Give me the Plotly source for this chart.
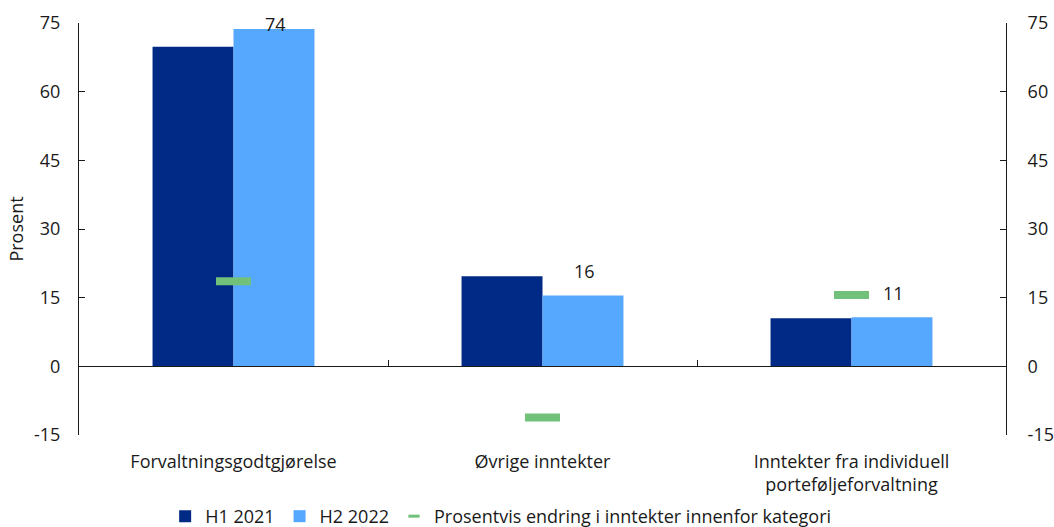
import plotly.graph_objects as go

categories = ["Forvaltningsgodtgjørelse", "Øvrige inntekter", "Inntekter fra individuell<br>porteføljeforvaltning"]
h1_2021 = [69.8, 19.7, 10.5]
h2_2022 = [73.7, 15.5, 10.7]
pct_change = [18.6, -11.2, 15.6]
h2_labels = ["74", "16", "11"]
y_ticks = [-15, 0, 15, 30, 45, 60, 75]
y_ticktext = ["-15", "0", "15", "30", "45", "60", "75"]

YMIN, YMAX = -15, 75
BARGAP = 0.476
FONT = "Open Sans"
FS = 18
TXT = "#1a1a1a"
GREEN = "#71c17a"
PCT_NAME = "Prosentvis endring i inntekter innenfor kategori"

fig = go.Figure()
fig.add_trace(go.Bar(x=categories, y=h1_2021, name="H1 2021", marker_color="#002a85",
                     marker_line_width=0))
fig.add_trace(go.Bar(x=categories, y=h2_2022, name="H2 2022", marker_color="#56a8ff",
                     marker_line_width=0))
fig.add_trace(go.Scatter(x=categories, y=pct_change, name=PCT_NAME, showlegend=False,
                         mode="markers", xaxis="x2",
                         marker=dict(symbol="line-ew", size=25, color=GREEN,
                                     line=dict(color=GREEN, width=8))))
# legend entry for the change markers
fig.add_trace(go.Scatter(x=[None], y=[None], name=PCT_NAME, mode="markers", xaxis="x2",
                         marker=dict(symbol="line-ew", size=8, color=GREEN,
                                     line=dict(color=GREEN, width=3))))
# invisible trace for right axis
fig.add_trace(go.Scatter(x=categories, y=h2_2022, yaxis="y2", mode="markers",
                         marker=dict(opacity=0), showlegend=False, hoverinfo="skip"))

offset = (1 - BARGAP) / 4
for i, (v, lab) in enumerate(zip(h2_2022, h2_labels)):
    fig.add_annotation(x=i + offset, y=min(v + 5.25, YMAX - 0.3), text=lab, showarrow=False,
                       xref="x", yref="y", yanchor="middle", xshift=2,
                       font=dict(family=FONT, size=FS, color=TXT))

zero_pos = (0 - YMIN) / (YMAX - YMIN)

fig.update_layout(
    width=1054, height=527,
    margin=dict(l=79, r=48, t=23, b=92, autoexpand=False),
    paper_bgcolor="white", plot_bgcolor="white",
    barmode="group", bargap=BARGAP, bargroupgap=0,
    font=dict(family=FONT, size=FS, color=TXT),
    showlegend=True,
    legend=dict(orientation="h", x=0.475, xref="container", xanchor="center",
                y=0.02, yref="container", yanchor="middle",
                font=dict(family=FONT, size=FS, color=TXT),
                itemwidth=30, tracegroupgap=0, traceorder="normal"),
    xaxis=dict(type="category", range=[-0.5, 2.5], showline=False, ticks="",
               showgrid=False, zeroline=False, tickfont=dict(size=FS, color=TXT),
               ticklabelstandoff=14),
    xaxis2=dict(type="category", range=[-0.5, 2.5], overlaying="x", anchor="free",
                position=zero_pos, showline=True, linecolor="#1a1a1a", linewidth=1,
                ticks="inside", tickson="boundaries", ticklen=6, tickcolor="#1a1a1a",
                showticklabels=False, showgrid=False, zeroline=False),
    yaxis=dict(range=[YMIN, YMAX], tickvals=y_ticks, ticktext=y_ticktext, showline=True,
               linecolor="#1a1a1a", linewidth=1, ticks="inside", ticklen=6, tickcolor="#1a1a1a",
               showgrid=False, zeroline=False, tickfont=dict(size=FS, color=TXT),
               ticklabelstandoff=14,
               title=dict(text="Prosent", font=dict(size=FS, color=TXT), standoff=5)),
    yaxis2=dict(range=[YMIN, YMAX], tickvals=y_ticks, ticktext=y_ticktext, overlaying="y",
                side="right", showline=True, linecolor="#1a1a1a", linewidth=1, ticks="inside",
                ticklen=6, tickcolor="#1a1a1a", showgrid=False, zeroline=False,
                tickfont=dict(size=FS, color=TXT), ticklabelstandoff=17),
)

fig.write_html("out.html")
